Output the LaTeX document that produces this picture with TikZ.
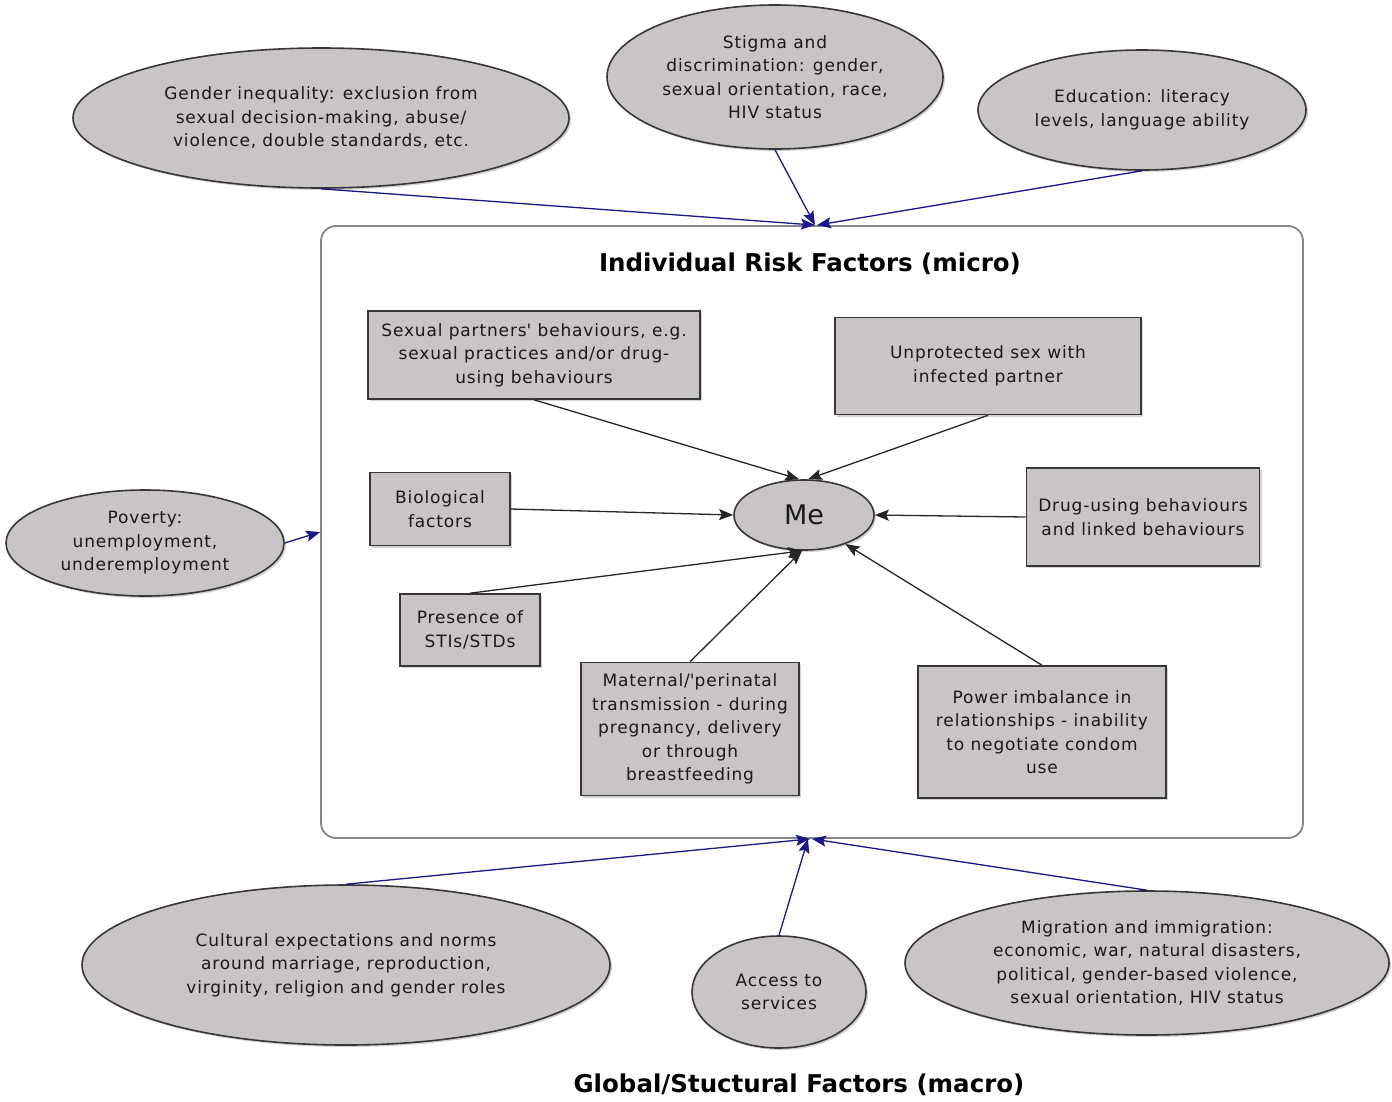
\documentclass[tikz,border=0pt]{standalone}
\usepackage{fontspec}
\setmainfont{DejaVu Sans}
\newfontfamily\lsfont[LetterSpace=5]{DejaVu Sans}
\usetikzlibrary{arrows.meta,shadows,shapes.geometric}
\definecolor{nodefill}{RGB}{201,197,197}
\definecolor{navy}{RGB}{25,25,135}
\definecolor{framegray}{RGB}{135,135,135}
\definecolor{bordergray}{RGB}{55,55,55}
\tikzset{
  x=1pt, y=-1pt,
  txt/.style={font=\lsfont\fontsize{17}{23.5}\selectfont, text=black!90, align=center},
  ell/.style={txt, ellipse, draw=bordergray, line width=1.6pt, fill=nodefill, inner sep=0pt,
    drop shadow={opacity=0.35, shadow xshift=2pt, shadow yshift=-2pt}},
  box/.style={txt, rectangle, draw=bordergray, line width=1.6pt, fill=nodefill, inner sep=0pt,
    drop shadow={opacity=0.35, shadow xshift=2pt, shadow yshift=-2pt}},
  tip/.style={-{Stealth[length=14pt,width=11pt,inset=2.5pt]}},
  blk/.style={tip, line width=1.3pt, draw=black!85},
  blu/.style={tip, line width=1.3pt, draw=navy, fill=navy},
  ttl/.style={font=\bfseries\fontsize{24.5}{28}\selectfont},
}
\begin{document}
\begin{tikzpicture}
\useasboundingbox (0,0) rectangle (1392,1101);
% frame
\node[draw=framegray, line width=1.8pt, rounded corners=15pt, minimum width=982pt, minimum height=612pt, inner sep=0pt] (frame) at (812,532) {};
\node[ttl] (title) at (810,264) {Individual Risk Factors (micro)};
\node[ttl] (gtitle) at (799,1085) {Global/Stuctural Factors (macro)};

% outer ellipses
\node[ell, minimum width=496pt, minimum height=140pt] (gender) at (321,118) {Gender inequality: exclusion from\\sexual decision-making, abuse/\\violence, double standards, etc.};
\node[ell, minimum width=336pt, minimum height=144pt] (stigma) at (775,77) {Stigma and\\discrimination: gender,\\sexual orientation, race,\\HIV status};
\node[ell, minimum width=328pt, minimum height=120pt] (edu) at (1142,110) {Education: literacy\\levels, language ability};
\node[ell, minimum width=278pt, minimum height=106pt] (poverty) at (145,543) {Poverty:\\unemployment,\\underemployment};
\node[ell, minimum width=528pt, minimum height=160pt] (cult) at (346,965) {Cultural expectations and norms\\around marriage, reproduction,\\virginity, religion and gender roles};
\node[ell, minimum width=174pt, minimum height=112pt] (access) at (779,992) {Access to\\services};
\node[ell, minimum width=484pt, minimum height=144pt] (migr) at (1147,963) {Migration and immigration:\\economic, war, natural disasters,\\political, gender-based violence,\\sexual orientation, HIV status};

% Me
\node[ell, minimum width=140pt, minimum height=70pt, font=\fontsize{27}{30}\selectfont] (me) at (804,515) {Me};

% boxes
\node[box, minimum width=332pt, minimum height=88pt] (partners) at (534,355) {Sexual partners\textquotesingle\ behaviours, e.g.\\sexual practices and/or drug-\\using behaviours};
\node[box, minimum width=306pt, minimum height=97pt] (unprot) at (988,366) {Unprotected sex with\\infected partner};
\node[box, minimum width=140pt, minimum height=73pt] (bio) at (440,509) {Biological\\factors};
\node[box, minimum width=233pt, minimum height=98pt] (drug) at (1143,517) {Drug-using behaviours\\and linked behaviours};
\node[box, minimum width=140pt, minimum height=72pt] (sti) at (470,630) {Presence of\\STIs/STDs};
\node[box, minimum width=218pt, minimum height=133pt] (mat) at (690,729) {Maternal/\textquotesingle perinatal\\transmission - during\\pregnancy, delivery\\or through\\breastfeeding};
\node[box, minimum width=248pt, minimum height=132pt] (power) at (1042,732) {Power imbalance in\\relationships - inability\\to negotiate condom\\use};

% inner arrows
\draw[blk] (partners.south) -- ([xshift=-5pt]me.north);
\draw[blk] (unprot.south) -- ([xshift=4pt]me.north);
\draw[blk] (bio.east) -- (me.west);
\draw[blk] (drug.west) -- (me.east);
\draw[blk] (sti.north) -- ([xshift=-2pt]me.south);
\draw[blk] (mat.north) -- ([xshift=-2pt]me.south);
\draw[blk] (power.north) -- (me.-35);

% outer arrows
\draw[blu] (gender.south) -- ([xshift=3pt]frame.north);
\draw[blu] (stigma.south) -- ([xshift=3pt]frame.north);
\draw[blu] (edu.south) -- ([xshift=5pt]frame.north);
\draw[blu] (poverty.east) -- (frame.west);
\draw[blu] (cult.north) -- ([xshift=-2pt]frame.south);
\draw[blu] (access.north) -- ([xshift=-4pt]frame.south);
\draw[blu] (migr.north) -- (frame.south);
\end{tikzpicture}
\end{document}
